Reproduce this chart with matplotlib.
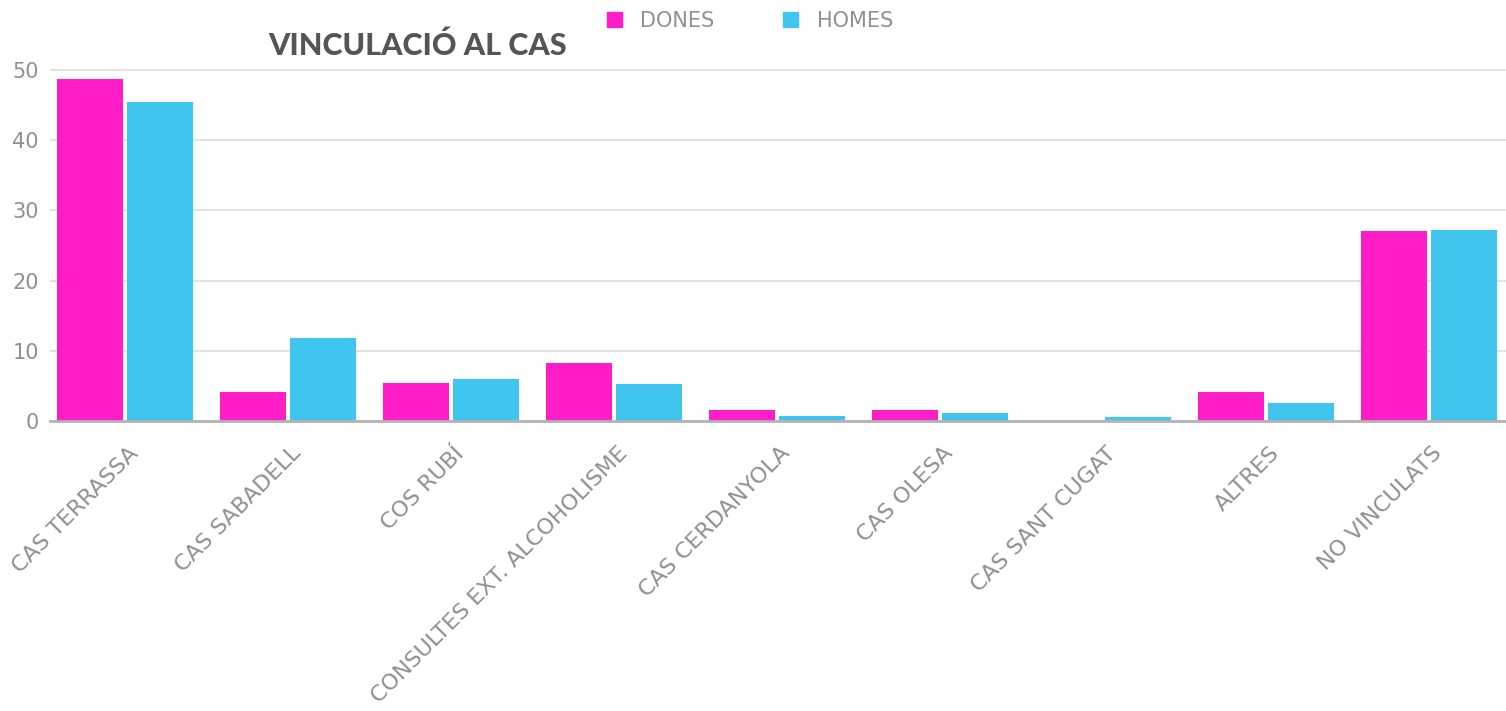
import numpy as np
import matplotlib
matplotlib.use("Agg")
import matplotlib.pyplot as plt
import matplotlib.transforms as mtransforms
from matplotlib.patches import Patch

categories = [
    "CAS TERRASSA", "CAS SABADELL", "COS RUBÍ", "CONSULTES EXT. ALCOHOLISME",
    "CAS CERDANYOLA", "CAS OLESA", "CAS SANT CUGAT", "ALTRES", "NO VINCULATS",
]
dones = [48.7, 4.1, 5.4, 8.2, 1.5, 1.5, 0.0, 4.2, 27.1]
homes = [45.5, 11.8, 6.0, 5.2, 0.7, 1.1, 0.6, 2.6, 27.2]
yticks = [0, 10, 20, 30, 40, 50]

PINK = "#ff1dc8"
BLUE = "#40c6ee"
TEXT = "#909090"

W, H = 1506, 711
fig = plt.figure(figsize=(W / 100, H / 100), dpi=100)
plt.rcParams["font.family"] = ["DejaVu Sans"]

# axes placement in pixels
left_px, right_px = 50, 1506
zero_px, top_px = 421, 70
ymax = 50.4
top_adj = zero_px - (zero_px - top_px) * ymax / 50
ax = fig.add_axes([left_px / W, 1 - zero_px / H,
                   (right_px - left_px) / W, (zero_px - top_adj) / H])

step = 163.0
x0 = 43.5
ax.set_xlim(-0.5 + (left_px - x0) / step, -0.5 + (right_px - x0) / step)
ax.set_ylim(0, ymax)

x = np.arange(len(categories))
off = 0.215
bw = 0.405
ax.bar(x - off, dones, bw, color=PINK, zorder=3)
ax.bar(x + off, homes, bw, color=BLUE, zorder=3)

ax.set_yticks(yticks)
ax.yaxis.grid(True, color="#e2e2e2", linewidth=1.5, zorder=0)
ax.set_axisbelow(True)
for s in ["top", "right", "left"]:
    ax.spines[s].set_visible(False)
ax.spines["bottom"].set_color("#b3b3b3")
ax.spines["bottom"].set_linewidth(2)
ax.spines["bottom"].set_zorder(4)

ax.tick_params(axis="y", length=0, pad=8, labelsize=15, labelcolor=TEXT)
ax.tick_params(axis="x", length=0, pad=16, labelsize=16, labelcolor=TEXT)
ax.set_xticks(x)
ax.set_xticklabels(categories, rotation=45, ha="right", rotation_mode="anchor")
shift = mtransforms.ScaledTranslation(3 / 100, 0, fig.dpi_scale_trans)
for lab in ax.get_xticklabels():
    lab.set_transform(lab.get_transform() + shift)

fig.text(268 / W, 1 - 46 / H, "VINCULACIÓ AL CAS", fontsize=22,
         fontweight="black", family=["Lato", "DejaVu Sans"],
         color="#555555", va="center", ha="left")

handles = [Patch(color=PINK, label="DONES"), Patch(color=BLUE, label="HOMES")]
fig.legend(handles=handles, loc="center", bbox_to_anchor=(750 / W, 1 - 21 / H),
           ncol=2, frameon=False, labelcolor=TEXT,
           handlelength=0.7, handleheight=0.7, columnspacing=3.3,
           handletextpad=0.9, prop={"size": 15})

fig.savefig("out.png", dpi=100)
